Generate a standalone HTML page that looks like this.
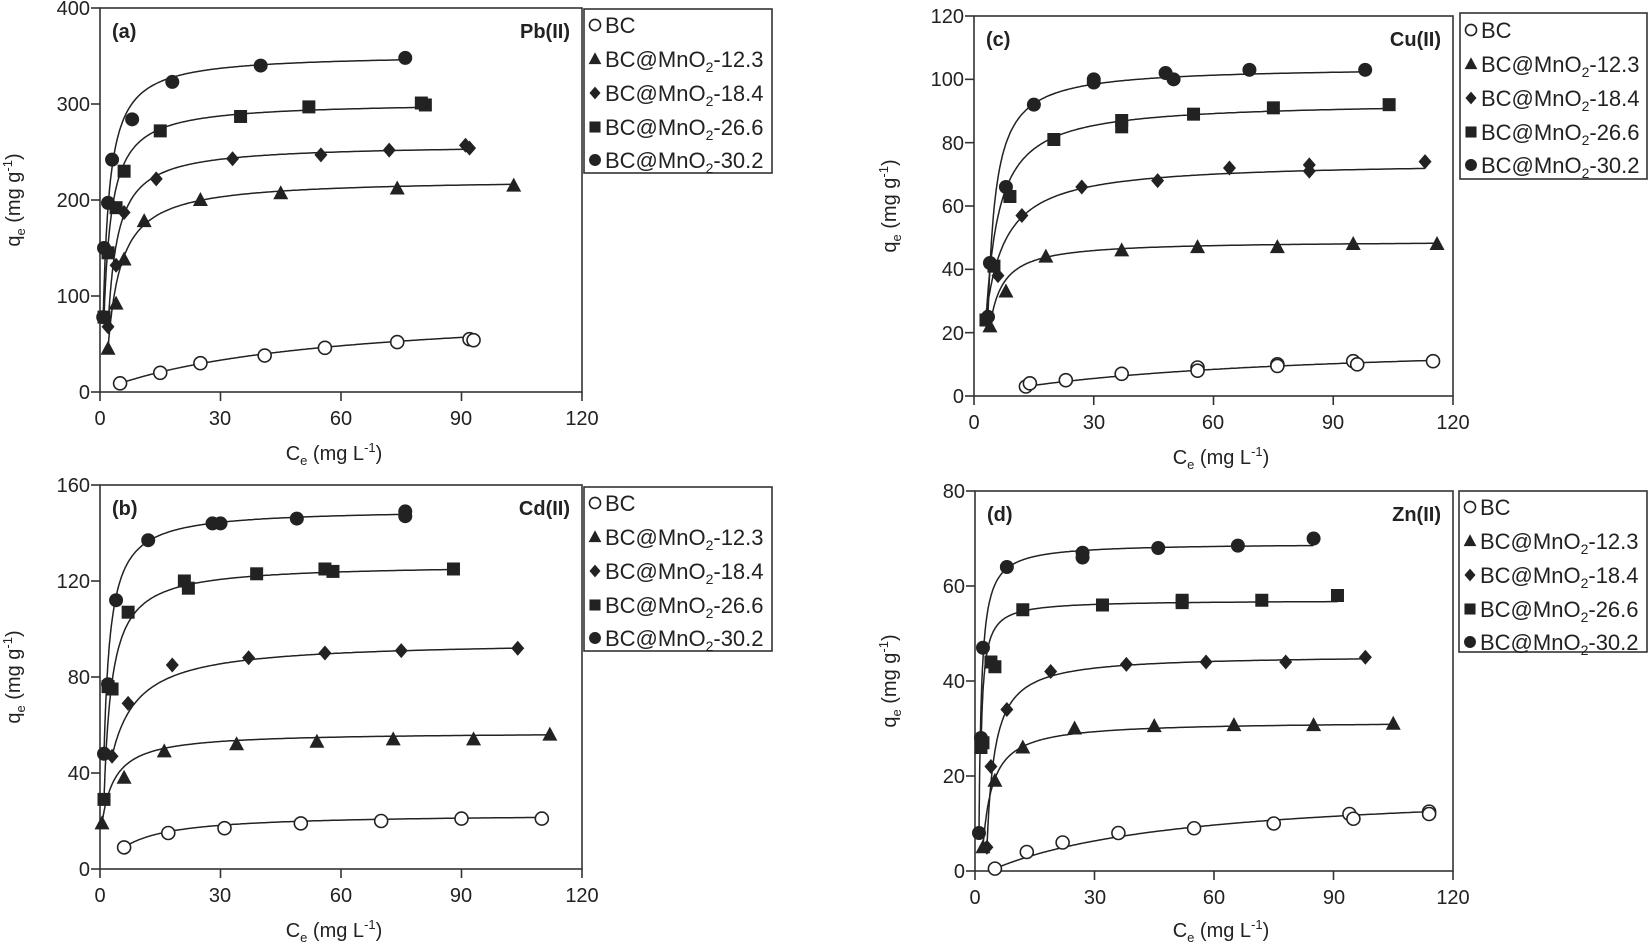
<!DOCTYPE html>
<html><head><meta charset="utf-8">
<style>
html,body{margin:0;padding:0;background:#fff;}
svg{display:block;font-family:"Liberation Sans",sans-serif;}
.t{font-size:20px;fill:#222;}
.b{font-size:20px;font-weight:bold;fill:#222;}
.lg{font-size:22px;fill:#222;}
</style></head>
<body>
<svg id="s" width="1649" height="945" viewBox="0 0 1649 945">
<g stroke="#333" stroke-width="1.6" fill="none">
<rect x="100" y="8" width="482" height="384"/>
<rect x="100" y="485" width="482" height="384"/>
<rect x="974" y="16" width="479" height="380"/>
<rect x="975" y="491" width="478" height="380"/>
<rect x="584" y="9" width="188" height="164"/>
<rect x="584" y="487" width="188" height="164"/>
<rect x="1460" y="13" width="187" height="166"/>
<rect x="1459" y="491" width="188" height="161"/>
</g>
<g id="ticks" stroke="#333" stroke-width="1.6"></g>
<g id="data"></g>

<g class="t" text-anchor="end">
<text x="90" y="15">400</text><text x="90" y="111">300</text><text x="90" y="207">200</text><text x="90" y="303">100</text><text x="90" y="399">0</text>
</g>
<g class="t" text-anchor="middle">
<text x="100" y="425">0</text><text x="220" y="425">30</text><text x="341" y="425">60</text><text x="461" y="425">90</text><text x="582" y="425">120</text>
</g>
<text class="t" x="334" y="460" text-anchor="middle">C<tspan font-size="13" dy="5">e</tspan><tspan dy="-5"> (mg L</tspan><tspan font-size="13" dy="-8">-1</tspan><tspan dy="8">)</tspan></text>
<text class="t" transform="translate(20,200) rotate(-90)" text-anchor="middle">q<tspan font-size="13" dy="5">e</tspan><tspan dy="-5"> (mg g</tspan><tspan font-size="13" dy="-8">-1</tspan><tspan dy="8">)</tspan></text>
<text class="b" x="112" y="38">(a)</text><text class="b" x="570" y="38" text-anchor="end">Pb(II)</text>

<g class="t" text-anchor="end">
<text x="90" y="492">160</text><text x="90" y="588">120</text><text x="90" y="684">80</text><text x="90" y="780">40</text><text x="90" y="876">0</text>
</g>
<g class="t" text-anchor="middle">
<text x="100" y="902">0</text><text x="220" y="902">30</text><text x="341" y="902">60</text><text x="461" y="902">90</text><text x="582" y="902">120</text>
</g>
<text class="t" x="334" y="937" text-anchor="middle">C<tspan font-size="13" dy="5">e</tspan><tspan dy="-5"> (mg L</tspan><tspan font-size="13" dy="-8">-1</tspan><tspan dy="8">)</tspan></text>
<text class="t" transform="translate(20,677) rotate(-90)" text-anchor="middle">q<tspan font-size="13" dy="5">e</tspan><tspan dy="-5"> (mg g</tspan><tspan font-size="13" dy="-8">-1</tspan><tspan dy="8">)</tspan></text>
<text class="b" x="112" y="515">(b)</text><text class="b" x="570" y="515" text-anchor="end">Cd(II)</text>

<g class="t" text-anchor="end">
<text x="964" y="23">120</text><text x="964" y="86">100</text><text x="964" y="150">80</text><text x="964" y="213">60</text><text x="964" y="276">40</text><text x="964" y="340">20</text><text x="964" y="403">0</text>
</g>
<g class="t" text-anchor="middle">
<text x="974" y="429">0</text><text x="1094" y="429">30</text><text x="1213" y="429">60</text><text x="1333" y="429">90</text><text x="1453" y="429">120</text>
</g>
<text class="t" x="1221" y="464" text-anchor="middle">C<tspan font-size="13" dy="5">e</tspan><tspan dy="-5"> (mg L</tspan><tspan font-size="13" dy="-8">-1</tspan><tspan dy="8">)</tspan></text>
<text class="t" transform="translate(896,206) rotate(-90)" text-anchor="middle">q<tspan font-size="13" dy="5">e</tspan><tspan dy="-5"> (mg g</tspan><tspan font-size="13" dy="-8">-1</tspan><tspan dy="8">)</tspan></text>
<text class="b" x="986" y="46">(c)</text><text class="b" x="1441" y="46" text-anchor="end">Cu(II)</text>

<g class="t" text-anchor="end">
<text x="965" y="498">80</text><text x="965" y="593">60</text><text x="965" y="688">40</text><text x="965" y="783">20</text><text x="965" y="878">0</text>
</g>
<g class="t" text-anchor="middle">
<text x="975" y="904">0</text><text x="1095" y="904">30</text><text x="1214" y="904">60</text><text x="1334" y="904">90</text><text x="1453" y="904">120</text>
</g>
<text class="t" x="1221" y="937" text-anchor="middle">C<tspan font-size="13" dy="5">e</tspan><tspan dy="-5"> (mg L</tspan><tspan font-size="13" dy="-8">-1</tspan><tspan dy="8">)</tspan></text>
<text class="t" transform="translate(896,681) rotate(-90)" text-anchor="middle">q<tspan font-size="13" dy="5">e</tspan><tspan dy="-5"> (mg g</tspan><tspan font-size="13" dy="-8">-1</tspan><tspan dy="8">)</tspan></text>
<text class="b" x="987" y="521">(d)</text><text class="b" x="1441" y="521" text-anchor="end">Zn(II)</text>

<g class="lg">
<text x="605" y="33">BC</text>
<text x="605" y="67">BC@MnO<tspan font-size="14" dy="5">2</tspan><tspan dy="-5">-12.3</tspan></text>
<text x="605" y="101">BC@MnO<tspan font-size="14" dy="5">2</tspan><tspan dy="-5">-18.4</tspan></text>
<text x="605" y="135">BC@MnO<tspan font-size="14" dy="5">2</tspan><tspan dy="-5">-26.6</tspan></text>
<text x="605" y="168">BC@MnO<tspan font-size="14" dy="5">2</tspan><tspan dy="-5">-30.2</tspan></text>

<text x="605" y="511">BC</text>
<text x="605" y="545">BC@MnO<tspan font-size="14" dy="5">2</tspan><tspan dy="-5">-12.3</tspan></text>
<text x="605" y="579">BC@MnO<tspan font-size="14" dy="5">2</tspan><tspan dy="-5">-18.4</tspan></text>
<text x="605" y="613">BC@MnO<tspan font-size="14" dy="5">2</tspan><tspan dy="-5">-26.6</tspan></text>
<text x="605" y="646">BC@MnO<tspan font-size="14" dy="5">2</tspan><tspan dy="-5">-30.2</tspan></text>

<text x="1481" y="38">BC</text>
<text x="1481" y="72">BC@MnO<tspan font-size="14" dy="5">2</tspan><tspan dy="-5">-12.3</tspan></text>
<text x="1481" y="106">BC@MnO<tspan font-size="14" dy="5">2</tspan><tspan dy="-5">-18.4</tspan></text>
<text x="1481" y="140">BC@MnO<tspan font-size="14" dy="5">2</tspan><tspan dy="-5">-26.6</tspan></text>
<text x="1481" y="173">BC@MnO<tspan font-size="14" dy="5">2</tspan><tspan dy="-5">-30.2</tspan></text>

<text x="1480" y="515">BC</text>
<text x="1480" y="549">BC@MnO<tspan font-size="14" dy="5">2</tspan><tspan dy="-5">-12.3</tspan></text>
<text x="1480" y="583">BC@MnO<tspan font-size="14" dy="5">2</tspan><tspan dy="-5">-18.4</tspan></text>
<text x="1480" y="617">BC@MnO<tspan font-size="14" dy="5">2</tspan><tspan dy="-5">-26.6</tspan></text>
<text x="1480" y="650">BC@MnO<tspan font-size="14" dy="5">2</tspan><tspan dy="-5">-30.2</tspan></text>
</g>
</svg>
<script>
var NS="http://www.w3.org/2000/svg";
var D=document.getElementById("data"),T=document.getElementById("ticks");
function el(tag,a,p){var e=document.createElementNS(NS,tag);for(var k in a)e.setAttribute(k,a[k]);(p||D).appendChild(e);return e;}
function marker(t,x,y,s){
 s=s||1;
 if(t==0) el("circle",{cx:x,cy:y,r:6.5*s,fill:"#fff",stroke:"#222","stroke-width":1.6});
 else if(t==1) el("polygon",{points:(x)+","+(y-8*s)+" "+(x-7.5*s)+","+(y+6*s)+" "+(x+7.5*s)+","+(y+6*s),fill:"#222"});
 else if(t==2) el("polygon",{points:x+","+(y-7.5*s)+" "+(x+6.5*s)+","+y+" "+x+","+(y+7.5*s)+" "+(x-6.5*s)+","+y,fill:"#222"});
 else if(t==3) el("rect",{x:x-6.5*s,y:y-6.5*s,width:13*s,height:13*s,fill:"#222"});
 else el("circle",{cx:x,cy:y,r:7*s,fill:"#222"});
}
var panels=[
 {x0:100,x1:582,y0:392,y1:8,ym:400,yt:100,
  s:[{p:[[5,9],[15,20],[25,30],[41,38],[56,46],[74,52],[92,55],[93,54]],qm:90,K:0.017},
     {p:[[2,45],[4,92],[6,138],[11,178],[25,200],[45,207],[74,212],[103,215]],qm:222,K:0.3},
     {p:[[2,68],[4,132],[6,187],[14,222],[33,243],[55,247],[72,252],[91,257],[92,254]],qm:258,K:0.4},
     {p:[[1,78],[2,145],[4,192],[6,230],[15,272],[35,287],[52,297],[80,301],[81,299]],qm:302,K:0.5},
     {p:[[0.8,78],[1,150],[2,197],[3,242],[8,284],[18,323],[40,340],[76,348]],qm:352,K:0.6}]},
 {x0:100,x1:582,y0:869,y1:485,ym:160,yt:40,
  s:[{p:[[6,9],[17,15],[31,17],[50,19],[70,20],[90,21],[110,21]],qm:23,K:0.08},
     {p:[[0.5,19],[6,38],[16,49],[34,52],[54,53],[73,54],[93,54],[112,56]],qm:57,K:0.3},
     {p:[[3,47],[7,69],[18,85],[37,88],[56,90],[75,91],[104,92]],qm:95,K:0.15},
     {p:[[1,29],[2,76],[3,75],[7,107],[21,120],[22,117],[39,123],[56,125],[58,124],[88,125]],qm:127,K:0.5},
     {p:[[1,48],[2,77],[4,112],[12,137],[28,144],[30,144],[49,146],[76,149],[76,147]],qm:150,K:0.6}]},
 {x0:974,x1:1453,y0:396,y1:16,ym:120,yt:20,
  s:[{p:[[13,3],[14,4],[23,5],[37,7],[56,9],[56,8],[76,10],[76,9.5],[95,11],[96,10],[115,11]],qm:18,K:0.012},
     {p:[[4,22],[8,33],[18,44],[37,46],[56,47],[76,47],[95,48],[116,48]],qm:49,K:0.3},
     {p:[[3,25],[6,38],[12,57],[27,66],[46,68],[64,72],[84,73],[84,71],[113,74]],qm:74,K:0.2},
     {p:[[3,24],[5,41],[9,63],[20,81],[37,87],[37,85],[55,89],[75,91],[104,92]],qm:93,K:0.3},
     {p:[[3.5,25],[4,42],[8,66],[15,92],[30,100],[30,99],[48,102],[50,100],[69,103],[98,103]],qm:104,K:0.5}]},
 {x0:975,x1:1453,y0:871,y1:491,ym:80,yt:20,
  s:[{p:[[5,0.5],[13,4],[22,6],[36,8],[55,9],[75,10],[94,12],[95,11],[114,12.5],[114,12]],qm:18,K:0.02},
     {p:[[2,5],[5,19],[12,26],[25,30],[45,30.5],[65,30.7],[85,30.7],[105,31]],qm:31.5,K:0.4},
     {p:[[3,5],[4,22],[8,34],[19,42],[38,43.5],[58,44],[78,44],[98,45]],qm:45.5,K:0.5},
     {p:[[1.5,26],[2,27],[4,44],[5,43],[12,55],[32,56],[52,56.5],[52,57],[72,57],[91,58]],qm:57,K:1.2},
     {p:[[1,8],[1.5,28],[2,47],[8,64],[27,66],[27,67],[46,68],[66,68.5],[85,70]],qm:69,K:1.5}]}
];
panels.forEach(function(P){
 var sx=function(v){return P.x0+(P.x1-P.x0)*v/120;};
 var sy=function(v){return P.y0+(P.y1-P.y0)*v/P.ym;};
 for(var v=0;v<=120;v+=30){var x=sx(v);el("line",{x1:x,y1:P.y0,x2:x,y2:P.y0+9},T);}
 for(var v=0;v<=P.ym;v+=P.yt){var y=sy(v);el("line",{x1:P.x0-9,y1:y,x2:P.x0,y2:y},T);}
 P.s.forEach(function(S,i){
  var pts=S.p,xa=pts[0][0],xb=pts[pts.length-1][0],d="",q0=pts[0][1];
  for(var k=0;k<=240;k++){
   var c=xa+(xb-xa)*Math.pow(k/240,2.2);
   var u=S.K*(c-xa);
   var q=q0+(S.qm-q0)*u/(1+u);
   d+=(k?"L":"M")+sx(c).toFixed(1)+","+sy(q).toFixed(1);
  }
  el("path",{d:d,fill:"none",stroke:"#222","stroke-width":1.5});
  pts.forEach(function(p){marker(i,sx(p[0]),sy(p[1]));});
 });
});
[[595,[25,59,93,127,160]],[595,[503,537,571,605,638]],[1471,[30,64,98,132,165]],[1470,[507,541,575,609,642]]].forEach(function(L){
 L[1].forEach(function(y,i){marker(i,L[0],y,0.85);});
});
</script>
</body></html>
